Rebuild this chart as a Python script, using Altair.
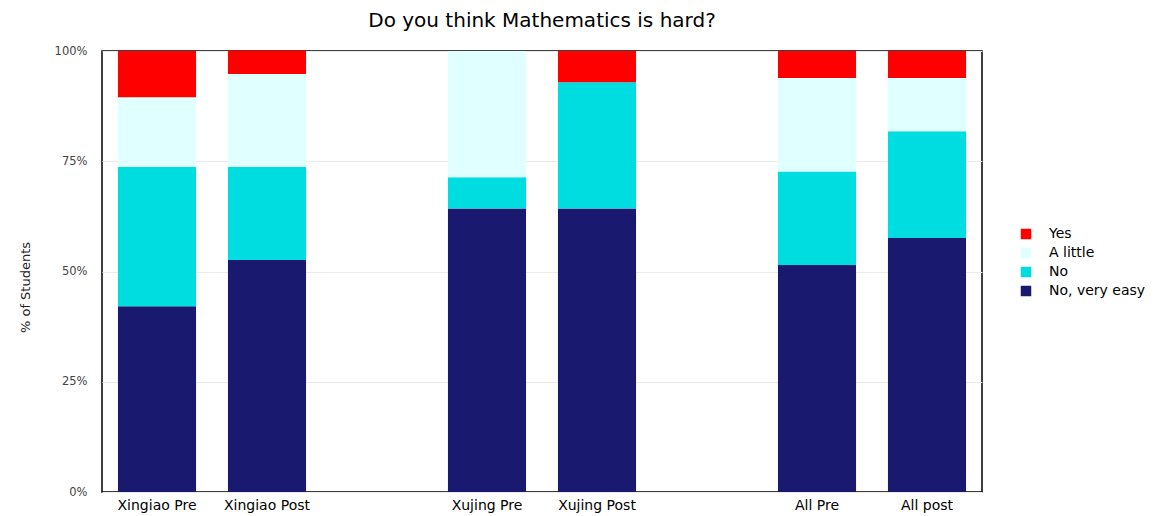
import altair as alt
import pandas as pd

groups = ["Xingiao Pre", "Xingiao Post", "Xujing Pre", "Xujing Post", "All Pre", "All post"]
slots = ["Xingiao Pre", "Xingiao Post", " ", "Xujing Pre", "Xujing Post", "  ", "All Pre", "All post"]
answers = ["Yes", "A little", "No", "No, very easy"]
colors = ["#FF0000", "#E0FFFF", "#00DDE0", "#191970"]

# percent of students per group (stack order bottom -> top: No very easy, No, A little, Yes)
no_very_easy = [42.1, 52.6, 64.3, 64.3, 51.5, 57.6]
no = [31.6, 21.1, 7.1, 28.6, 21.2, 24.2]
a_little = [15.8, 21.1, 28.6, 0.0, 21.2, 12.1]
yes = [10.5, 5.3, 0.0, 7.1, 6.1, 6.1]

rows = []
series = {"No, very easy": no_very_easy, "No": no, "A little": a_little, "Yes": yes}
stack_order = {"No, very easy": 0, "No": 1, "A little": 2, "Yes": 3}
for ans, vals in series.items():
    for g, v in zip(groups, vals):
        rows.append({"group": g, "answer": ans, "pct": v, "ord": stack_order[ans]})
df = pd.DataFrame(rows)

FONT = "DejaVu Sans"

chart = alt.Chart(df).mark_bar().encode(
    x=alt.X("group:N", sort=slots,
            scale=alt.Scale(domain=slots, paddingInner=0.29, paddingOuter=0.145),
            axis=alt.Axis(title=None, labelAngle=0, ticks=False, domain=False,
                          labelFontSize=14, labelColor="#000000", labelPadding=6,
                          labelFont=FONT)),
    y=alt.Y("pct:Q", stack="zero",
            scale=alt.Scale(domain=[0, 100], nice=False),
            axis=alt.Axis(title="% of Students", values=[0, 25, 50, 75, 100],
                          labelExpr="datum.value + '%'", ticks=False, domain=False,
                          labelFontSize=11.5, labelColor="#444444", labelPadding=15,
                          titleFontSize=13, titleFontWeight="normal", titleColor="#222222",
                          titleX=-70, titleY=236, labelFont=FONT, titleFont=FONT,
                          gridColor="#EBEBEB")),
    color=alt.Color("answer:N",
                    scale=alt.Scale(domain=answers, range=colors),
                    legend=alt.Legend(title=None, orient="none", legendX=917, legendY=176,
                                      symbolType="square", symbolSize=110,
                                      symbolStrokeWidth=0, labelFontSize=14,
                                      labelFont=FONT, labelColor="#000000",
                                      rowPadding=5, labelOffset=16)),
    order=alt.Order("ord:Q", sort="ascending"),
).properties(
    width=880,
    height=441,
    padding={"left": 94, "top": 43, "right": 168, "bottom": 24},
    autosize=alt.AutoSizeParams(type="none"),
    title=alt.Title("Do you think Mathematics is hard?", fontSize=20, fontWeight="normal",
                    font=FONT, color="#000000", anchor="middle", offset=14),
).configure_view(
    stroke="#000000", strokeWidth=1.5
)

chart.save("out.html", embed_options={"renderer": "svg", "actions": False})
